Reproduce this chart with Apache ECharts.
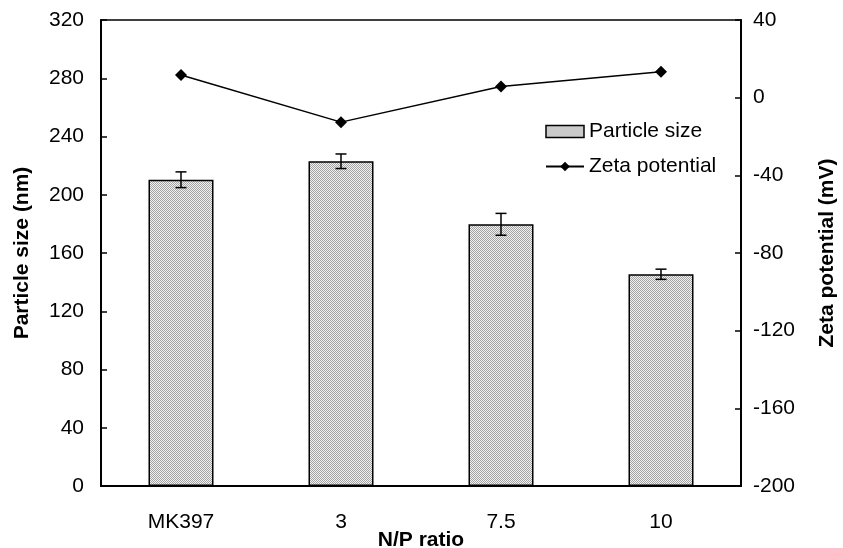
<!DOCTYPE html>
<html>
<head>
<meta charset="utf-8">
<script src="https://cdn.jsdelivr.net/npm/echarts@6/dist/echarts.min.js"></script>
<style>
  html, body { margin: 0; padding: 0; background: #fff; }
  #chart { width: 843px; height: 548px; }
</style>
</head>
<body>
<div id="chart"></div>
<script>
const categories = ['MK397', '3', '7.5', '10']
const particleSize = [210.3, 223, 179.7, 145.4]
const sizeError = [5.4, 5, 7.5, 3.5]
const zetaPotential = [11.7, -12.6, 5.7, 13.4]

// fine grey hatch like the original bitmap fill
function hatchPattern() {
  const c = document.createElement('canvas')
  c.width = 4
  c.height = 4
  const ctx = c.getContext('2d')
  ctx.fillStyle = '#f0f0f0'
  ctx.fillRect(0, 0, 4, 4)
  ctx.fillStyle = '#a4a4a4'
  for (let i = 0; i < 4; i++) {
    ctx.fillRect(i, i, 1, 1)
    ctx.fillRect(i, (i + 2) % 4, 1, 1)
  }
  return c
}

const font = 'Liberation Sans, Arial, sans-serif'
const hatch = { image: hatchPattern(), repeat: 'repeat' }

const chart = echarts.init(document.getElementById('chart'), null, { renderer: 'canvas' })

chart.setOption({
  animation: false,
  textStyle: { fontFamily: font, color: '#000' },
  grid: {
    left: 101, right: 102, top: 20, bottom: 62,
    outerBoundsMode: 'none',
    show: true, borderColor: '#000', borderWidth: 1.5,
  },
  legend: {
    orient: 'vertical',
    left: 540,
    top: 116,
    itemWidth: 38,
    itemHeight: 12,
    itemGap: 14,
    textStyle: { fontFamily: font, fontSize: 21, color: '#000' },
    data: [{ name: 'Particle size', icon: 'rect', itemStyle: { color: hatch, borderColor: '#000', borderWidth: 1.5 } }, 'Zeta potential'],
  },
  xAxis: {
    type: 'category',
    data: categories,
    name: 'N/P ratio',
    nameLocation: 'middle',
    nameGap: 44,
    nameMoveOverlap: false,
    nameTextStyle: { fontFamily: font, fontSize: 21, fontWeight: 'bold', color: '#000' },
    axisLine: { lineStyle: { color: '#000', width: 2 } },
    axisTick: { inside: true, length: 6, lineStyle: { color: '#000', width: 1.5 } },
    axisLabel: { margin: 26, fontSize: 21, color: '#000', fontFamily: font },
  },
  yAxis: [
    {
      type: 'value',
      min: 0,
      max: 320,
      interval: 40,
      name: 'Particle size (nm)',
      nameLocation: 'middle',
      nameGap: 68,
      nameTextStyle: { fontFamily: font, fontSize: 21, fontWeight: 'bold', color: '#000' },
      axisLine: { show: true, lineStyle: { color: '#000', width: 2 } },
      axisTick: { show: true, inside: true, length: 6, lineStyle: { color: '#000', width: 1.5 } },
      axisLabel: { margin: 17, fontSize: 21, color: '#000', fontFamily: font },
      splitLine: { show: false },
    },
    {
      type: 'value',
      min: -200,
      max: 40,
      interval: 40,
      name: 'Zeta potential (mV)',
      nameLocation: 'middle',
      nameGap: 76,
      nameRotate: 90,
      nameTextStyle: { fontFamily: font, fontSize: 21, fontWeight: 'bold', color: '#000' },
      axisLine: { show: true, lineStyle: { color: '#000', width: 2 } },
      axisTick: { show: true, inside: true, length: 6, lineStyle: { color: '#000', width: 1.5 } },
      axisLabel: { margin: 12, fontSize: 21, color: '#000', fontFamily: font },
      splitLine: { show: false },
    },
  ],
  series: [
    {
      name: 'Particle size',
      type: 'bar',
      data: particleSize,
      barWidth: 65,
      itemStyle: { color: hatch, borderColor: '#000', borderWidth: 1.5 },
      z: 2,
    },
    {
      name: 'error',
      type: 'custom',
      data: particleSize.map((v, i) => [i, v - sizeError[i], v + sizeError[i]]),
      renderItem(params, api) {
        const lo = api.coord([api.value(0), api.value(1)])
        const hi = api.coord([api.value(0), api.value(2)])
        const w = 5.5
        const style = { stroke: '#000', lineWidth: 1.5 }
        return {
          type: 'group',
          children: [
            { type: 'line', shape: { x1: lo[0], y1: lo[1], x2: hi[0], y2: hi[1] }, style },
            { type: 'line', shape: { x1: lo[0] - w, y1: lo[1], x2: lo[0] + w, y2: lo[1] }, style },
            { type: 'line', shape: { x1: hi[0] - w, y1: hi[1], x2: hi[0] + w, y2: hi[1] }, style },
          ],
        }
      },
      z: 3,
    },
    {
      name: 'Zeta potential',
      type: 'line',
      yAxisIndex: 1,
      data: zetaPotential,
      symbol: 'diamond',
      symbolSize: 12,
      itemStyle: { color: '#000' },
      lineStyle: { color: '#000', width: 1.5 },
      z: 4,
    },
  ],
})
</script>
</body>
</html>
